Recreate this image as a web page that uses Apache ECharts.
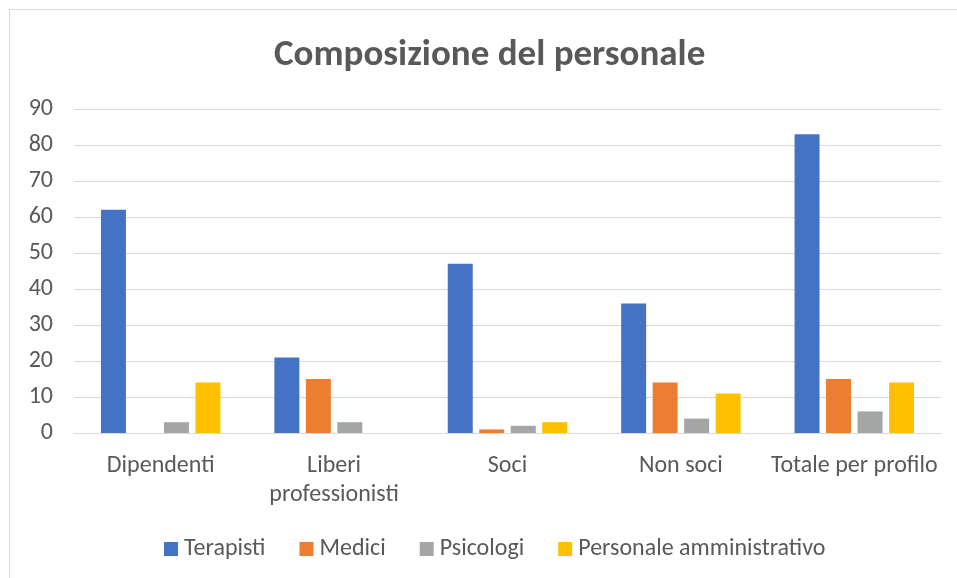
<!DOCTYPE html>
<html><head><meta charset="utf-8">
<script src="https://cdn.jsdelivr.net/npm/echarts@6/dist/echarts.min.js"></script>
<style>
html,body{margin:0;padding:0;background:#fff;}
#frame{position:absolute;left:9px;top:9px;width:960px;height:580px;border:1px solid #d9d9d9;box-sizing:border-box;}
#c{position:absolute;left:0;top:0;width:957px;height:578px;}
</style></head>
<body><div id="frame"></div><div id="c"></div>
<script>
const categories = ['Dipendenti', 'Liberi\nprofessionisti', 'Soci', 'Non soci', 'Totale per profilo'];
const terapisti = [62, 21, 47, 36, 83];
const medici = [0, 15, 1, 14, 15];
const psicologi = [3, 3, 2, 4, 6];
const amministrativo = [14, 0, 3, 11, 14];
const seriesNames = ['Terapisti', 'Medici', 'Psicologi', 'Personale amministrativo'];
const colors = ['#4472C4', '#ED7D31', '#A5A5A5', '#FFC000'];
const font = 'Calibri, Carlito, "Open Sans", sans-serif';
const chart = echarts.init(document.getElementById('c'));
const data = [terapisti, medici, psicologi, amministrativo];
chart.setOption({
  animation: false,
  title: {text: 'Composizione del personale', left: 274, top: 37, padding: 0,
    textStyle: {fontFamily: font, fontSize: 37, fontWeight: 'bold', color: '#595959'}},
  legend: {top: 537, left: 164, itemWidth: 14, itemHeight: 14, itemGap: 34, icon: 'rect', padding: 0,
    textStyle: {fontFamily: font, fontSize: 24, color: '#595959', padding: [0, 0, 0, 1]}, data: seriesNames},
  grid: {left: 74, right: 16, top: 109, bottom: 145, containLabel: false},
  xAxis: {type: 'category', data: categories,
    axisLine: {lineStyle: {color: '#d9d9d9', width: 1}}, axisTick: {show: false},
    axisLabel: {fontFamily: font, fontSize: 24, color: '#595959', margin: 18, lineHeight: 29, interval: 0}},
  yAxis: {type: 'value', min: 0, max: 90, interval: 10,
    axisLine: {show: false}, axisTick: {show: false},
    splitLine: {lineStyle: {color: '#d9d9d9', width: 1}},
    axisLabel: {fontFamily: font, fontSize: 24, color: '#595959', margin: 21}},
  series: seriesNames.map((n, i) => ({
    name: n, type: 'bar', data: data[i], barWidth: 25, barGap: '26%',
    itemStyle: {color: colors[i]}
  }))
});
</script></body></html>
